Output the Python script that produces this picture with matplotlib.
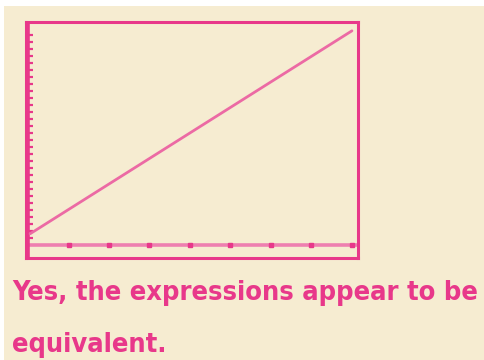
"""graphing calculator screen: line check for equivalent expressions"""
import matplotlib.pyplot as plt
from matplotlib.patches import Rectangle
import numpy as np

# window values
x_line = [0.05, 8.0]
y_line = [1.6, 30.6]
x_ticks = list(range(1, 9))
y_ticks = list(range(1, 31))
caption = ["Yes, the expressions appear to be", "equivalent."]

pink = "#E8388A"
light_pink = "#EE7FB0"
beige = "#F6ECD1"

W, H = 484, 360
fig = plt.figure(figsize=(W / 100, H / 100), dpi=100, facecolor="white")
fig.patches.append(Rectangle((4 / W, 0), 1, 1 - 6 / H, transform=fig.transFigure,
                             facecolor=beige, edgecolor="none", zorder=-10))

# frame of the screen in pixels
left, right, top, bottom = 26, 358, 22, 258
ax = fig.add_axes([left / W, 1 - bottom / H, (right - left) / W, (bottom - top) / H])
ax.set_facecolor(beige)
for s in ax.spines.values():
    s.set_color(pink)
    s.set_linewidth(2.2)
ax.set_xlim(-0.05, 8.15)
ax.set_ylim(-1.86, 31.86)
ax.set_xticks([])
ax.set_yticks([])

# axes of the calculator window
ax.axhline(0, color=light_pink, lw=2.6, zorder=2)
ax.axvline(0, color=pink, lw=2.6, zorder=2)
ax.plot(x_ticks, np.zeros(len(x_ticks)), ls="none", marker="s", ms=3.5, color=pink, zorder=3)
ax.plot(np.zeros(len(y_ticks)), y_ticks, ls="none", marker="_", ms=7, mew=1.6, color=pink, zorder=3)

# the graph
ax.plot(x_line, y_line, color="#EC6AA4", lw=2.0, solid_capstyle="round", zorder=4)

fam = ["DejaVu Sans"]
t1 = fig.text(12 / W, 1 - 300 / H, caption[0], color=pink, fontsize=22, fontweight="bold",
              family=fam, fontstretch="condensed", va="baseline")
t2 = fig.text(12 / W, 1 - 352 / H, caption[1], color=pink, fontsize=22, fontweight="bold",
              family=fam, fontstretch="condensed", va="baseline")

# fit first line to the width seen in the picture
r = fig.canvas.get_renderer()
w = t1.get_window_extent(r).width
size = 22 * 466 / w
t1.set_fontsize(size)
t2.set_fontsize(size)

fig.savefig("out.png", dpi=100, facecolor=fig.get_facecolor())
